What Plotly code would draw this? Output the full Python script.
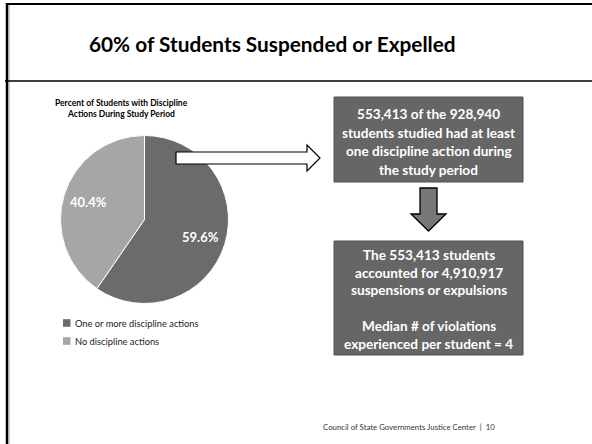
import math
import plotly.graph_objects as go

W, H = 592, 444

# Pie data
slice_labels = ["One or more discipline actions", "No discipline actions"]
slice_values = [59.6, 40.4]
slice_colors = ["#6b6b6b", "#a6a6a6"]

# Slide text
slide_title = "60% of Students Suspended or Expelled"
pie_title = ["Percent of Students with Discipline", "Actions During Study Period"]
box1_lines = ["553,413 of the 928,940", "students studied had at least",
              "one discipline action during", "the study period"]
box2_lines = ["The 553,413 students", "accounted for 4,910,917",
              "suspensions or expulsions", "", "Median # of violations",
              "experienced per student = 4"]
footer = "Council of State Governments Justice Center  |  10"

FONT = "Lato"


def px(x):
    return x / W


def py(y):
    return 1 - y / H


fig = go.Figure()

# pie placed by pixel box; percentages drawn as annotations below
cx, cy, r = 144.5, 219.5, 84
fig.add_trace(go.Pie(
    labels=slice_labels,
    values=slice_values,
    marker=dict(colors=slice_colors, line=dict(color="white", width=1)),
    sort=False,
    direction="clockwise",
    rotation=0,
    textinfo="none",
    domain=dict(x=[px(cx - r), px(cx + r)], y=[py(cy + r), py(cy - r)]),
    hoverinfo="label+percent",
    showlegend=False,
))

shapes = []
# slide frame
shapes.append(dict(type="line", xref="paper", yref="paper",
                   x0=px(7), x1=px(7), y0=py(3), y1=py(444),
                   line=dict(color="black", width=2.5)))
shapes.append(dict(type="line", xref="paper", yref="paper",
                   x0=px(9), x1=px(9), y0=py(5), y1=py(444),
                   line=dict(color="#9a9a9a", width=1)))
shapes.append(dict(type="line", xref="paper", yref="paper",
                   x0=px(6), x1=px(592), y0=py(4), y1=py(4),
                   line=dict(color="black", width=2)))
shapes.append(dict(type="line", xref="paper", yref="paper",
                   x0=px(5), x1=px(592), y0=py(81), y1=py(81),
                   line=dict(color="black", width=1.3)))


def path(points):
    return "M " + " L ".join(f"{px(x):.5f},{py(y):.5f}" for x, y in points) + " Z"


# right-pointing outline arrow
shapes.append(dict(type="path", xref="paper", yref="paper",
                   path=path([(176, 152), (307, 152), (307, 145), (320, 158),
                              (307, 171), (307, 164), (176, 164)]),
                   fillcolor="white", line=dict(color="black", width=1.2)))

# text boxes
for y0, y1 in [(97, 182), (241, 355)]:
    shapes.append(dict(type="rect", xref="paper", yref="paper",
                       x0=px(334), x1=px(523), y0=py(y1), y1=py(y0),
                       fillcolor="#666666", line=dict(color="#505050", width=1)))

# down arrow
shapes.append(dict(type="path", xref="paper", yref="paper",
                   path=path([(420, 188), (437, 188), (437, 214), (446, 214),
                              (428.5, 231), (411, 214), (420, 214)]),
                   fillcolor="#777777", line=dict(color="black", width=1.3)))

annotations = []


def label(text, x, y, size, color="black", bold=False, xanchor="center"):
    annotations.append(dict(
        text=text, x=px(x), y=py(y), xref="paper", yref="paper",
        xanchor=xanchor, yanchor="middle", showarrow=False,
        font=dict(family=FONT, size=size, color=color,
                  weight="bold" if bold else "normal")))


# slice percentages at 70% of the radius, at each slice's mid-angle
total = sum(slice_values)
start = 0.0
for v in slice_values:
    mid = (start + v / 2) / total * 2 * math.pi
    start += v
    lx = cx + 0.7 * r * math.sin(mid)
    ly = cy - 0.7 * r * math.cos(mid)
    label(f"{v / total * 100:.1f}%", lx, ly, 13, color="white", bold=True)

# legend
for i, (name, col) in enumerate(zip(slice_labels, slice_colors)):
    ly = 323 + 18 * i
    shapes.append(dict(type="rect", xref="paper", yref="paper",
                       x0=px(63), x1=px(70.5), y0=py(ly + 3.8), y1=py(ly - 3.8),
                       fillcolor=col, line=dict(width=0)))
    label(name, 72.5, ly, 9.3, color="#222222", xanchor="left")

label(slide_title, 272, 43, 20.8, bold=True)
for i, t in enumerate(pie_title):
    label(t, 121, 103 + 11.5 * i, 8.5, bold=True)
for i, t in enumerate(box1_lines):
    label(t, 428.5, 114 + 18.5 * i, 13.6, color="white", bold=True)
for i, t in enumerate(box2_lines):
    if t:
        label(t, 428.5, 255 + 17.7 * i, 13.6, color="white", bold=True)
label(footer, 497, 427, 7.8, color="#333333", xanchor="right")

fig.update_layout(
    width=W, height=H,
    margin=dict(l=0, r=0, t=0, b=0),
    paper_bgcolor="white",
    plot_bgcolor="white",
    shapes=shapes,
    annotations=annotations,
    showlegend=False,
)

fig.write_html("out.html")
